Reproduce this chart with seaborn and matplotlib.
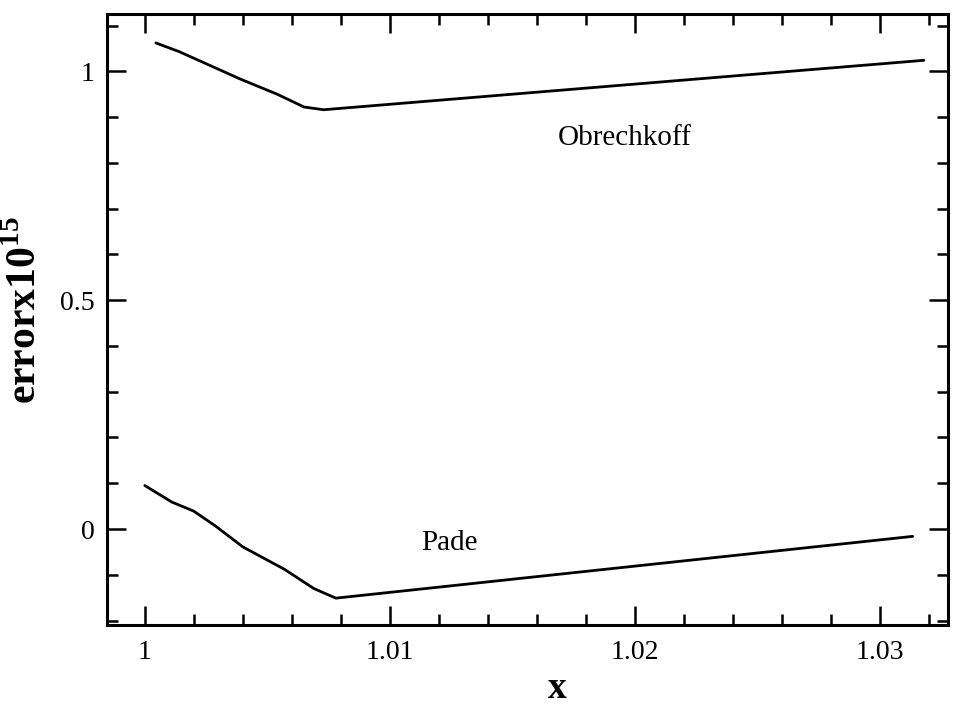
import numpy as np
import pandas as pd
import matplotlib
matplotlib.use("Agg")
import matplotlib.pyplot as plt
from matplotlib.ticker import MultipleLocator
import seaborn as sns

# values (error x 1e15)
obrechkoff_x = [1.00045, 1.0014, 1.0039, 1.0054, 1.0065, 1.0073, 1.0318]
obrechkoff_y = [1.062, 1.043, 0.983, 0.950, 0.922, 0.916, 1.024]
pade_x = [1.0000, 1.0011, 1.0020, 1.0029, 1.0040, 1.0057, 1.0069, 1.0078, 1.03135]
pade_y = [0.095, 0.059, 0.039, 0.006, -0.039, -0.088, -0.130, -0.151, -0.016]

x_ticks = [1.0, 1.01, 1.02, 1.03]
x_tick_labels = ["1", "1.01", "1.02", "1.03"]
y_ticks = [0.0, 0.5, 1.0]
y_tick_labels = ["0", "0.5", "1"]

df = pd.concat([
    pd.DataFrame({"x": obrechkoff_x, "err": obrechkoff_y, "method": "Obrechkoff"}),
    pd.DataFrame({"x": pade_x, "err": pade_y, "method": "Pade"}),
])

sns.set_style("ticks")
plt.rcParams["font.family"] = ["Liberation Serif", "DejaVu Serif"]
plt.rcParams["mathtext.fontset"] = "custom"
plt.rcParams["mathtext.rm"] = "Liberation Serif"
plt.rcParams["mathtext.bf"] = "Liberation Serif:bold"
for key in ["text.color", "axes.labelcolor", "xtick.color", "ytick.color"]:
    plt.rcParams[key] = "black"

fig = plt.figure(figsize=(9.54, 7.04), dpi=100)
ax = fig.add_axes([0.112, 0.112, 0.882, 0.868])

sns.lineplot(data=df, x="x", y="err", units="method", estimator=None,
             color="black", linewidth=2.0, sort=False, ax=ax, legend=False)

ax.set_xlim(0.99845, 1.0328)
ax.set_ylim(-0.21, 1.125)

ax.set_xticks(x_ticks)
ax.set_xticklabels(x_tick_labels)
ax.set_yticks(y_ticks)
ax.set_yticklabels(y_tick_labels)
ax.xaxis.set_minor_locator(MultipleLocator(0.002))
ax.yaxis.set_minor_locator(MultipleLocator(0.1))

for s in ax.spines.values():
    s.set_visible(True)
    s.set_linewidth(2.2)
    s.set_color("black")

ax.tick_params(which="both", direction="in", top=True, right=True,
               width=1.8, color="black", labelcolor="black", labelsize=20)
ax.tick_params(which="major", length=14)
ax.tick_params(which="minor", length=8)
ax.tick_params(axis="x", which="major", pad=11)
ax.tick_params(axis="y", which="major", pad=9)

ax.set_xlabel("x", fontsize=27, fontweight="bold", va="baseline")
ax.set_ylabel(r"errorx10$^{\mathbf{15}}$", fontsize=30, fontweight="bold")
ax.xaxis.set_label_coords(0.535, -0.119)
ax.yaxis.set_label_coords(-0.074, 0.515)

ax.text(1.0196, 0.854, "Obrechkoff", fontsize=21, ha="center", va="center")
ax.text(1.01245, -0.030, "Pade", fontsize=21, ha="center", va="center")

fig.savefig("out.png", dpi=100)
